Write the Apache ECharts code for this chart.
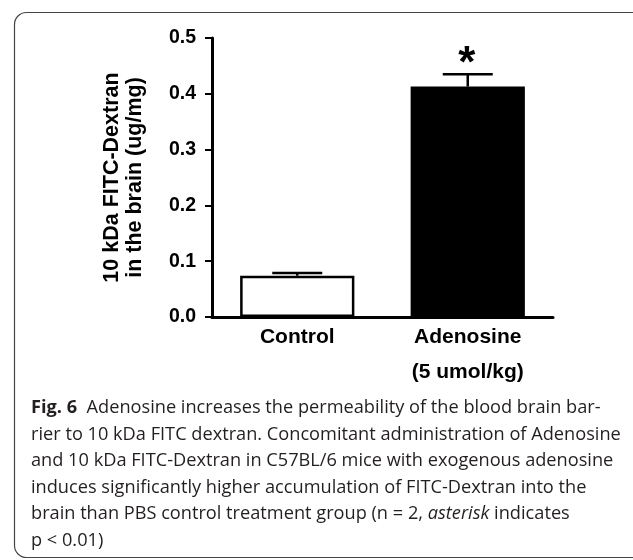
<!DOCTYPE html>
<html>
<head>
<meta charset="utf-8">
<script src="https://cdn.jsdelivr.net/npm/echarts@6/dist/echarts.min.js"></script>
<style>
    html, body { margin: 0; padding: 0; background: #fff; }
    #chart { width: 633px; height: 560px; }
</style>
</head>
<body>
<div id="chart"></div>
<script>
// data
var categories = ['Control', 'Adenosine\n(5 umol/kg)'];
var meanValues = [0.074, 0.413];
var errorValues = [0.005, 0.022];
var significance = ['', '*'];
var yTicks = [0, 0.5, 0.1];   // min, max, interval

var captionLines = [
    '{b|Fig. 6}  Adenosine increases the permeability of the blood brain bar-',
    'rier to 10 kDa FITC dextran. Concomitant administration of Adenosine',
    'and 10 kDa FITC-Dextran in C57BL/6 mice with exogenous adenosine',
    'induces significantly higher accumulation of FITC-Dextran into the',
    'brain than PBS control treatment group (n = 2, {i|asterisk} indicates',
    'p < 0.01)'
];

var chart = echarts.init(document.getElementById('chart'));

var barData = meanValues.map(function (v, i) {
    return {
        value: v,
        itemStyle: i === 0
            ? { color: '#fff', borderColor: '#000', borderWidth: 2.5 }
            : { color: '#000', borderColor: '#000', borderWidth: 2.5 }
    };
});

var errData = meanValues.map(function (v, i) {
    return [i, v, errorValues[i], significance[i]];
});

var capFont = 'Open Sans';
var capSize = 18.2;
var captionGraphics = captionLines.map(function (line, i) {
    return {
        type: 'text',
        left: 31,
        top: 399 + i * 26.5,
        style: {
            text: line,
            fontFamily: capFont,
            fontSize: capSize,
            fill: '#231f20',
            rich: {
                b: { fontFamily: capFont, fontSize: capSize, fontWeight: 'bold', fill: '#231f20' },
                i: { fontFamily: capFont, fontSize: capSize, fontStyle: 'italic', fill: '#231f20' }
            }
        }
    };
});

var option = {
    animation: false,
    backgroundColor: '#fff',
    textStyle: { fontFamily: 'Liberation Sans' },
    grid: {
        left: 212,
        right: 80,
        top: 38,
        bottom: 243
    },
    xAxis: {
        type: 'category',
        data: categories,
        axisTick: { show: false },
        axisLine: { lineStyle: { color: '#000', width: 3 } },
        axisLabel: {
            margin: 3,
            color: '#000',
            fontSize: 21,
            fontWeight: 'bold',
            lineHeight: 35
        }
    },
    yAxis: {
        type: 'value',
        min: yTicks[0],
        max: yTicks[1],
        interval: yTicks[2],
        name: '10 kDa FITC-Dextran\nin the brain (ug/mg)',
        nameLocation: 'middle',
        nameGap: 65,
        nameTextStyle: {
            color: '#000',
            fontSize: 21.5,
            fontWeight: 'bold',
            lineHeight: 23
        },
        splitLine: { show: false },
        axisLine: { show: true, lineStyle: { color: '#000', width: 3 } },
        axisTick: { show: true, length: 7, lineStyle: { color: '#000', width: 2 } },
        axisLabel: {
            margin: 16,
            color: '#000',
            fontSize: 19.5,
            fontWeight: 'bold',
            formatter: function (v) { return v.toFixed(1); }
        }
    },
    series: [
        {
            type: 'bar',
            data: barData,
            barWidth: '67%',
            z: 2
        },
        {
            type: 'custom',
            data: errData,
            encode: { x: 0, y: 1 },
            clip: false,
            z: 3,
            renderItem: function (params, api) {
                var idx = api.value(0);
                var base = api.coord([idx, api.value(1)]);
                var top = api.coord([idx, api.value(1) + api.value(2)]);
                var half = 25;
                var sig = significance[params.dataIndex];
                var children = [
                    {
                        type: 'line',
                        shape: { x1: top[0], y1: top[1], x2: base[0], y2: base[1] },
                        style: { stroke: '#000', lineWidth: 2.5 }
                    },
                    {
                        type: 'line',
                        shape: { x1: top[0] - half, y1: top[1], x2: top[0] + half, y2: top[1] },
                        style: { stroke: '#000', lineWidth: 2.5 }
                    }
                ];
                if (sig) {
                    children.push({
                        type: 'text',
                        x: top[0] - 1,
                        y: top[1] - 9,
                        style: {
                            text: sig,
                            fontFamily: 'Liberation Sans',
                            fontWeight: 'bold',
                            fontSize: 44,
                            fill: '#000',
                            align: 'center',
                            verticalAlign: 'middle'
                        }
                    });
                }
                return { type: 'group', children: children };
            }
        }
    ],
    graphic: [
        {
            type: 'rect',
            shape: { x: 14.5, y: 12.5, width: 700, height: 545, r: 12 },
            style: { fill: 'none', stroke: '#444', lineWidth: 1.2 },
            silent: true
        }
    ].concat(captionGraphics)
};

chart.setOption(option);
</script>
</body>
</html>
